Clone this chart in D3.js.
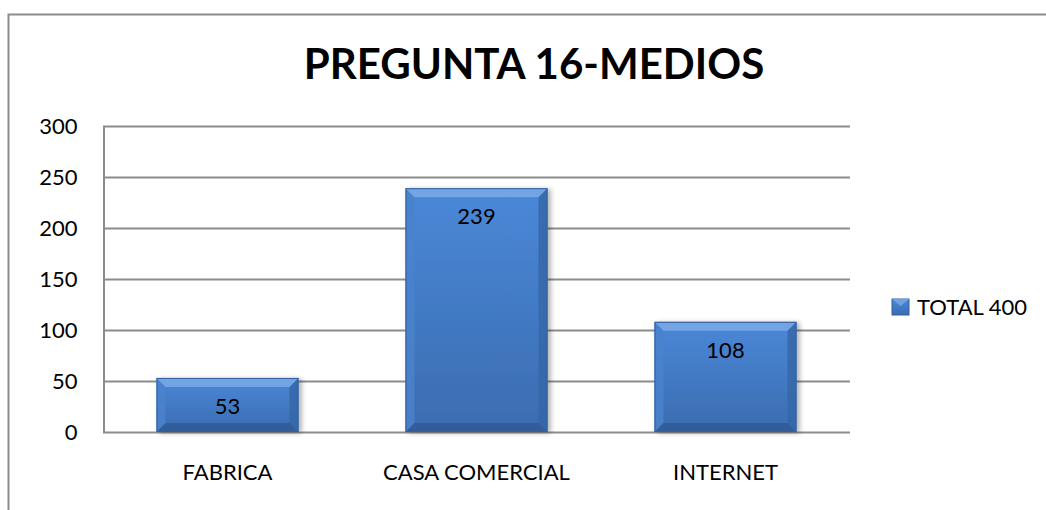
<!DOCTYPE html>
<html>
<head>
<meta charset="utf-8">
<script src="https://cdn.jsdelivr.net/npm/d3@7"></script>
<style>
  body { margin: 0; background: #fff; }
  text { font-family: Lato, "Open Sans", sans-serif; fill: #000; }
</style>
</head>
<body>
<script>
var categories = ["FABRICA", "CASA COMERCIAL", "INTERNET"];
var values = [53, 239, 108];
var yTicks = [0, 50, 100, 150, 200, 250, 300];
var seriesName = "TOTAL 400";
var title = "PREGUNTA 16-MEDIOS";

var width = 1046,
    height = 510;
var margin = {left: 103, right: 196, top: 126, bottom: 78};

var svg = d3.select("body").append("svg")
    .attr("width", width)
    .attr("height", height);

// outer chart border (only top and left are inside the picture)
svg.append("path")
    .attr("d", "M8.5,520 V14.5 H1060")
    .attr("fill", "none")
    .attr("stroke", "#8c8c8c")
    .attr("stroke-width", 2);

var x = d3.scaleBand()
    .domain(categories)
    .range([margin.left, width - margin.right])
    .paddingInner(0.43)
    .paddingOuter(0.215);

var y = d3.scaleLinear()
    .domain([0, 300])
    .range([height - margin.bottom, margin.top]);

var defs = svg.append("defs");
var grad = defs.append("linearGradient")
    .attr("id", "barFill")
    .attr("x1", 0).attr("y1", 0).attr("x2", 0).attr("y2", 1);
grad.append("stop").attr("offset", "0%").attr("stop-color", "#4a88d8");
grad.append("stop").attr("offset", "100%").attr("stop-color", "#3b6cb0");

var shadow = defs.append("filter").attr("id", "shadow")
    .attr("x", "-10%").attr("y", "-10%").attr("width", "130%").attr("height", "130%");
shadow.append("feGaussianBlur").attr("in", "SourceAlpha").attr("stdDeviation", 2.5);
shadow.append("feOffset").attr("dx", 3).attr("dy", 1).attr("result", "b");
shadow.append("feComponentTransfer").append("feFuncA").attr("type", "linear").attr("slope", 0.3);
var merge = shadow.append("feMerge");
merge.append("feMergeNode");
merge.append("feMergeNode").attr("in", "SourceGraphic");

// grid lines
svg.append("g")
  .selectAll("line")
  .data(yTicks)
  .enter().append("line")
    .attr("x1", margin.left)
    .attr("x2", width - margin.right)
    .attr("y1", function (d) { return Math.round(y(d)) + 0.5; })
    .attr("y2", function (d) { return Math.round(y(d)) + 0.5; })
    .attr("stroke", "#8c8c8c")
    .attr("stroke-width", 2);

// y axis
var yAxis = svg.append("g")
    .attr("transform", "translate(" + (margin.left + 0.5) + ",0)")
    .call(d3.axisLeft(y).tickValues(yTicks).tickSize(0).tickPadding(26));
yAxis.select(".domain").attr("stroke", "#8c8c8c").attr("stroke-width", 2);
yAxis.selectAll("text")
    .attr("font-size", 22)
    .attr("font-family", "Lato, sans-serif")
    .attr("fill", "#000");

// x axis labels
var xAxis = svg.append("g")
    .attr("transform", "translate(0," + y(0) + ")")
    .call(d3.axisBottom(x).tickSize(0).tickPadding(32));
xAxis.select(".domain").remove();
xAxis.selectAll("text")
    .attr("font-size", 22)
    .attr("font-family", "Lato, sans-serif")
    .attr("fill", "#000");

// bars with bevel
var bev = 9;
var bars = svg.append("g")
  .selectAll("g")
  .data(values)
  .enter().append("g")
    .attr("filter", "url(#shadow)");

bars.append("rect")
    .attr("x", function (d, i) { return x(categories[i]); })
    .attr("y", function (d) { return y(d); })
    .attr("width", x.bandwidth())
    .attr("height", function (d) { return y(0) - y(d); })
    .attr("fill", "url(#barFill)");

function bevelPath(d, i, side) {
  var x0 = x(categories[i]), x1 = x0 + x.bandwidth();
  var y0 = y(d), y1 = y(0);
  if (side === "top") return "M" + x0 + "," + y0 + "L" + x1 + "," + y0 + "L" + (x1 - bev) + "," + (y0 + bev) + "L" + (x0 + bev) + "," + (y0 + bev) + "Z";
  if (side === "bottom") return "M" + x0 + "," + y1 + "L" + x1 + "," + y1 + "L" + (x1 - bev) + "," + (y1 - bev) + "L" + (x0 + bev) + "," + (y1 - bev) + "Z";
  if (side === "left") return "M" + x0 + "," + y0 + "L" + (x0 + bev) + "," + (y0 + bev) + "L" + (x0 + bev) + "," + (y1 - bev) + "L" + x0 + "," + y1 + "Z";
  return "M" + x1 + "," + y0 + "L" + (x1 - bev) + "," + (y0 + bev) + "L" + (x1 - bev) + "," + (y1 - bev) + "L" + x1 + "," + y1 + "Z";
}

var bevelColors = {top: "#7aaae6", left: "#4a82cc", right: "#3567a8", bottom: "#2f5b96"};
["left", "right", "top", "bottom"].forEach(function (side) {
  bars.append("path")
      .attr("d", function (d, i) { return bevelPath(d, i, side); })
      .attr("fill", bevelColors[side])
      .attr("opacity", 0.85);
});

bars.append("rect")
    .attr("x", function (d, i) { return x(categories[i]) + 0.5; })
    .attr("y", function (d) { return y(d) + 0.5; })
    .attr("width", x.bandwidth() - 1)
    .attr("height", function (d) { return y(0) - y(d) - 1; })
    .attr("fill", "none")
    .attr("stroke", "#34609e")
    .attr("stroke-width", 1);

// value labels
svg.append("g")
  .selectAll("text")
  .data(values)
  .enter().append("text")
    .attr("x", function (d, i) { return x(categories[i]) + x.bandwidth() / 2; })
    .attr("y", function (d) { return y(d) + 36; })
    .attr("text-anchor", "middle")
    .attr("font-size", 22)
    .text(function (d) { return d; });

// title
svg.append("text")
    .attr("x", 534)
    .attr("y", 79)
    .attr("text-anchor", "middle")
    .attr("font-size", 42)
    .attr("font-weight", "bold")
    .text(title);

// legend
var legend = svg.append("g").attr("transform", "translate(892,299)");
legend.append("rect")
    .attr("width", 17).attr("height", 16)
    .attr("fill", "url(#barFill)")
    .attr("stroke", "#34609e");
legend.append("path")
    .attr("d", "M0,0 L17,0 L8.5,7 Z")
    .attr("fill", "#7aaae6")
    .attr("opacity", 0.8);
legend.append("text")
    .attr("x", 25)
    .attr("y", 16)
    .attr("font-size", 22)
    .text(seriesName);
</script>
</body>
</html>
